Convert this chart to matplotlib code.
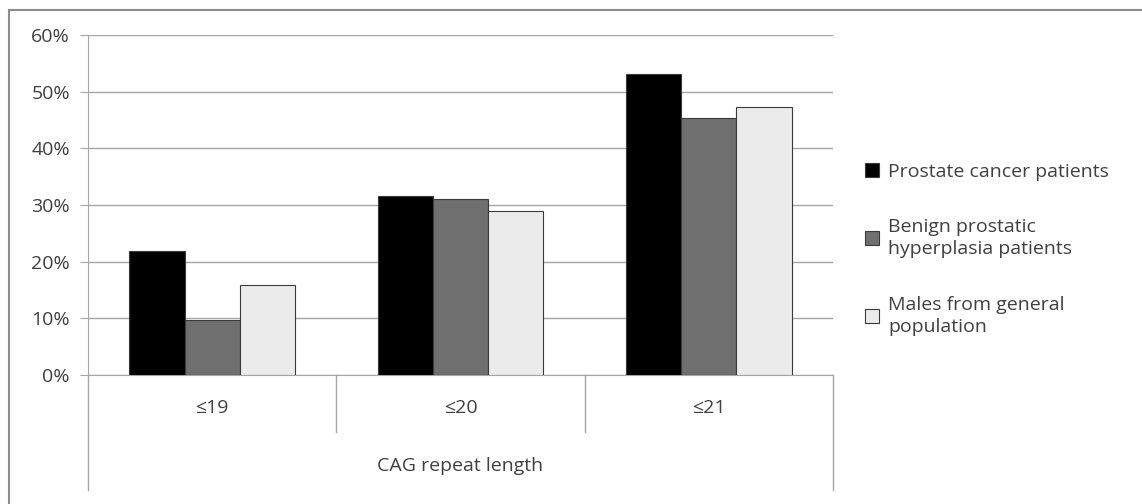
import matplotlib.pyplot as plt
import matplotlib.transforms as mtransforms
from matplotlib.patches import Rectangle
from matplotlib.ticker import PercentFormatter
import numpy as np

categories = ["≤19", "≤20", "≤21"]
series = [
    "Prostate cancer patients",
    "Benign prostatic\nhyperplasia patients",
    "Males from general\npopulation",
]
cancer = [21.8, 31.6, 53.1]
bph = [9.7, 31.1, 45.3]
general = [15.9, 29.0, 47.3]
values = [cancer, bph, general]
colors = ["#000000", "#6f6f6f", "#ebebeb"]

plt.rcParams["font.family"] = ["Open Sans", "DejaVu Sans"]
W, H = 1142, 504
fig = plt.figure(figsize=(W / 100, H / 100), dpi=100)
ax = fig.add_axes([88 / W, 1 - 375 / H, (833 - 88) / W, (375 - 35) / H])

x = np.arange(len(categories))
width = 1 / 4.5
handles = []
for i, (vals, col, name) in enumerate(zip(values, colors, series)):
    b = ax.bar(x + (i - 1) * width, vals, width, color=col, edgecolor="#3a3a3a",
               linewidth=0.8, label=name, zorder=3)
    handles.append(b)

ax.set_xlim(-0.5, 2.5)
ax.set_ylim(0, 60)
ax.set_yticks(np.arange(0, 61, 10))
ax.yaxis.set_major_formatter(PercentFormatter(decimals=0))
ax.grid(axis="y", color="#a6a6a6", linewidth=1.0, zorder=0)
ax.set_xticks([])
for s in ["top", "right"]:
    ax.spines[s].set_visible(False)
ax.spines["left"].set_color("#a6a6a6")
ax.spines["bottom"].set_color("#a6a6a6")
ax.tick_params(axis="y", length=6, color="#a6a6a6", labelcolor="#404040",
               labelsize=14, pad=7)

# multi-level category axis lines and labels
trans = mtransforms.blended_transform_factory(ax.transData, ax.transAxes)
inner_bottom = -(432 - 375) / 340
outer_bottom = -(490 - 375) / 340
for xb in [0.5, 1.5]:
    ax.plot([xb, xb], [0, inner_bottom], color="#a6a6a6", lw=1.0,
            transform=trans, clip_on=False)
for xb in [-0.5, 2.5]:
    ax.plot([xb, xb], [0, outer_bottom], color="#a6a6a6", lw=1.0,
            transform=trans, clip_on=False)
for xi, c in zip(x, categories):
    ax.text(xi, -(408 - 375) / 340, c, transform=trans, ha="center",
            va="center", fontsize=14, color="#404040")
ax.text(1, -(466 - 375) / 340, "CAG repeat length", transform=trans,
        ha="center", va="center", fontsize=14, color="#404040")

# legend entries placed one by one (uneven spacing as in the original)
legend_y = [172, 238, 316]
for h, name, yc in zip(handles, series, legend_y):
    leg = fig.legend(handles=[h], labels=[name], loc="center left",
                     bbox_to_anchor=(855 / W, 1 - yc / H), frameon=False,
                     fontsize=14, handlelength=0.75, handleheight=0.75,
                     handletextpad=0.45, labelcolor="#404040", borderpad=0)
    for t in leg.get_texts():
        t.set_linespacing(1.35)

fig.patches.append(Rectangle((9 / W, -0.1), 1.2, 1 - 10 / H + 0.1,
                             transform=fig.transFigure, fill=False,
                             edgecolor="#8c8c8c", linewidth=1.5))

fig.savefig("out.png", dpi=100)
